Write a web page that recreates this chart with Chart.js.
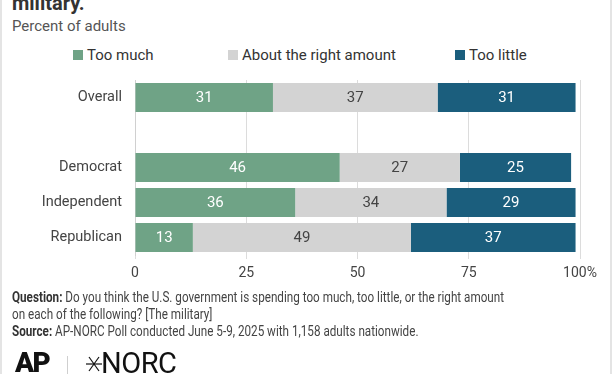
<!DOCTYPE html>
<html>
<head>
<meta charset="utf-8">
<script src="https://cdn.jsdelivr.net/npm/chart.js@4/dist/chart.umd.min.js"></script>
<style>
  html, body { margin: 0; padding: 0; background: #fff; }
  body { width: 612px; height: 374px; position: relative; overflow: hidden; font-family: Roboto, "Noto Sans", sans-serif; }
  #frame { position: absolute; left: 0; top: 0; width: 608px; height: 374px; border-left: 2px solid #e4e4e4; border-right: 2px solid #e4e4e4; }
  #chart { position: absolute; left: 0; top: 0; }
  .title { position: absolute; left: 12px; top: -9px; font-size: 20px; font-weight: bold; color: #333; }
  .subtitle { position: absolute; left: 12px; top: 17px; font-size: 15px; color: #555; }
  .legend { position: absolute; top: 46px; font-size: 15px; color: #333; white-space: nowrap; }
  .legend span.box { display: inline-block; width: 10px; height: 10px; margin-right: 4px; vertical-align: 0px; }
  .footer { position: absolute; left: 12px; top: 289px; font-size: 14px; line-height: 17px; color: #444; white-space: nowrap; transform: scaleX(0.835); transform-origin: left top; }
  .footer b { color: #333; }
  .logo { position: absolute; color: #111; white-space: nowrap; }
</style>
</head>
<body>
<div id="frame"></div>
<div class="title">military.</div>
<div class="subtitle">Percent of adults</div>
<div id="legend"></div>
<canvas id="chart" width="612" height="374"></canvas>
<div class="footer">
  <b>Question:</b> Do you think the U.S. government is spending too much, too little, or the right amount<br>
  on each of the following? [The military]<br>
  <b>Source:</b> AP-NORC Poll conducted June 5-9, 2025 with 1,158 adults nationwide.
</div>
<div class="logo" style="left:15px;top:346px;font-size:28px;font-weight:900;letter-spacing:-1.5px;">AP</div>
<div class="logo" style="left:67px;top:356px;width:1px;height:20px;background:#cfcfcf;"></div>
<svg class="logo" style="left:86px;top:355px;" width="16" height="18" viewBox="0 0 16 18">
  <g stroke="#111" stroke-width="1.2"><line x1="0" y1="9" x2="16" y2="9"/><line x1="3" y1="2" x2="13" y2="16"/><line x1="3" y1="16" x2="13" y2="2"/></g>
</svg>
<div class="logo" style="left:101px;top:346px;font-size:29px;font-weight:400;letter-spacing:-0.5px;">NORC</div>
<script>
"use strict";
const categories = ["Overall", "", "Democrat", "Independent", "Republican"];
const seriesNames = ["Too much", "About the right amount", "Too little"];
const tooMuch = [31, null, 46, 36, 13];
const aboutRight = [37, null, 27, 34, 49];
const tooLittle = [31, null, 25, 29, 37];
const colors = ["#6fa386", "#d3d3d3", "#1b5e7d"];
const labelColors = ["#ffffff", "#444444", "#ffffff"];
const tickValues = [0, 25, 50, 75, 100];
const legendX = [73, 228, 455];

const legendEl = document.getElementById("legend");
seriesNames.forEach(function (name, i) {
    const item = document.createElement("div");
    item.className = "legend";
    item.style.left = legendX[i] + "px";
    item.innerHTML = '<span class="box" style="background:' + colors[i] + '"></span>' + name;
    legendEl.appendChild(item);
});

// value labels in the middle of each segment
const barLabels = {
    id: "barLabels",
    afterDatasetsDraw(chart) {
        const ctx = chart.ctx;
        ctx.save();
        ctx.font = "15px Roboto";
        ctx.textAlign = "center";
        ctx.textBaseline = "middle";
        chart.data.datasets.forEach(function (ds, di) {
            const meta = chart.getDatasetMeta(di);
            meta.data.forEach(function (bar, i) {
                const v = ds.data[i];
                if (v === null) return;
                const p = bar.getProps(["x", "y", "base"], true);
                ctx.fillStyle = labelColors[di];
                ctx.fillText(String(v), (p.x + p.base) / 2, p.y + 1);
            });
        });
        ctx.restore();
    },
};

const chartData = {
    labels: categories,
    datasets: [tooMuch, aboutRight, tooLittle].map(function (vals, i) {
        return {
            label: seriesNames[i],
            data: vals,
            backgroundColor: colors[i],
            borderWidth: 0,
            barPercentage: 0.83,
            categoryPercentage: 1,
        };
    }),
};

new Chart(document.getElementById("chart"), {
    type: "bar",
    data: chartData,
    plugins: [barLabels],
    options: {
        indexAxis: "y",
        responsive: false,
        animation: false,
        layout: { padding: { top: 80, bottom: 89, left: 0, right: 32 } },
        plugins: {
            legend: { display: false },
            tooltip: { enabled: false },
        },
        scales: {
            x: {
                stacked: true,
                min: 0,
                max: 100,
                afterBuildTicks(axis) {
                    axis.ticks = tickValues.map(function (v) { return { value: v }; });
                },
                afterFit(axis) { axis.height = 30; },
                grid: { color: "#dcdcdc", lineWidth: 1, drawTicks: true, tickLength: 4 },
                border: { display: false },
                ticks: {
                    color: "#444",
                    font: { family: "Roboto", size: 14 },
                    padding: 6,
                    callback: function (v) { return v === 100 ? "100%" : v; },
                },
            },
            y: {
                stacked: true,
                afterFit(axis) { axis.width = 135; },
                grid: { display: false },
                border: { display: true, color: "#d0d0d0" },
                ticks: {
                    color: "#444",
                    font: { family: "Roboto", size: 14.5 },
                    padding: 5,
                },
            },
        },
    },
});
</script>
</body>
</html>
